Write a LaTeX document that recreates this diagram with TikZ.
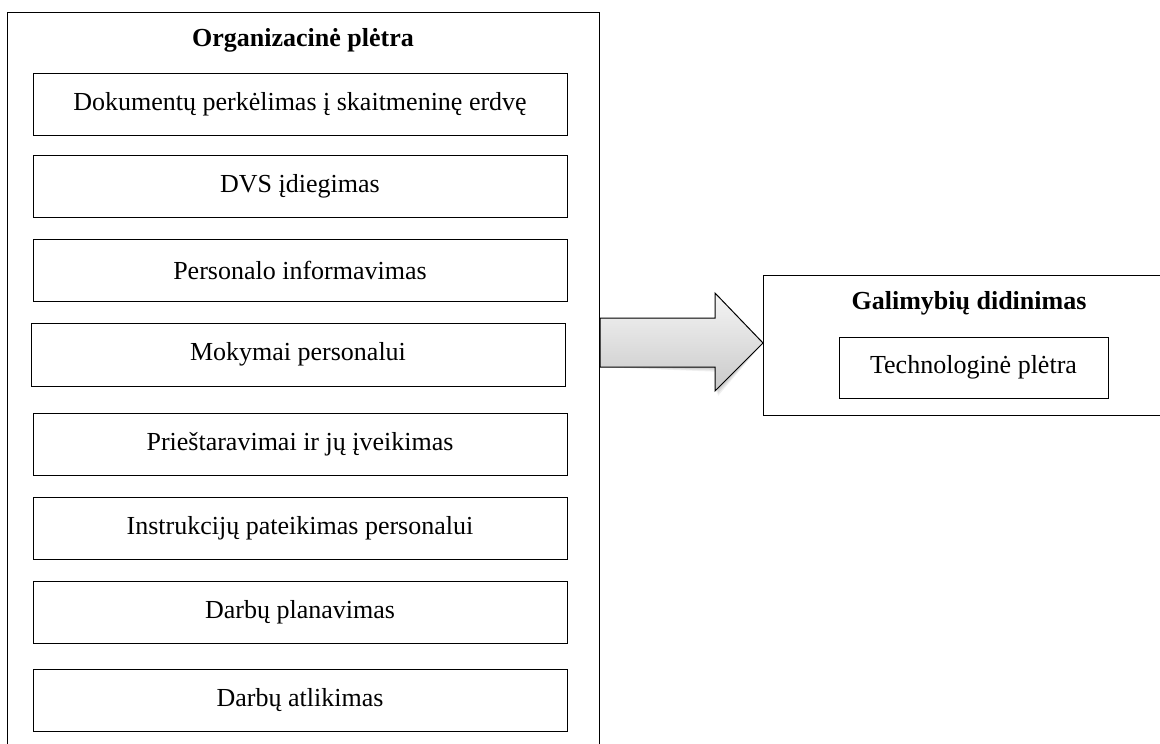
\documentclass[tikz,border=0pt]{standalone}
\usepackage{fontspec}
\setmainfont{Liberation Serif}
\begin{document}
\begin{tikzpicture}[x=1pt,y=-1pt,
  every node/.style={font=\fontsize{26}{31}\selectfont, inner sep=0pt},
  itembox/.style={draw=black, line width=1pt, minimum width=534pt, minimum height=62pt, align=center},
  framebox/.style={draw=black, line width=1pt},
  titletext/.style={font=\fontsize{26}{31}\selectfont\bfseries},
  blockarrow/.style={draw=black, line width=1pt, top color=gray!8, bottom color=gray!42}
]
\useasboundingbox (0,0) rectangle (1160,744);
\clip (0,0) rectangle (1160,744);
\fill[white] (0,0) rectangle (1160,744);

% left frame
\node[framebox, anchor=north west, minimum width=592pt, minimum height=760pt] (org) at (7,12) {};
\node[titletext] (orgtitle) at (303,40) {Organizacinė plėtra};

\node[itembox] (b1) at (300,104.5) {Dokumentų perkėlimas į skaitmeninę erdvę};
\node[itembox] (b2) at (300,186) {DVS įdiegimas};
\node[itembox] (b3) at (300,270) {Personalo informavimas};
\node[itembox, minimum height=63pt] (b4) at (298,354.5) {Mokymai personalui};
\node[itembox] (b5) at (300,444) {Prieštaravimai ir jų įveikimas};
\node[itembox] (b6) at (300,528) {Instrukcijų pateikimas personalui};
\node[itembox] (b7) at (300,612) {Darbų planavimas};
\node[itembox] (b8) at (300,700) {Darbų atlikimas};

% right frame
\node[framebox, line width=1.2pt, anchor=north west, minimum width=420pt, minimum height=140pt] (gal) at (763,275) {};
\node[titletext] (galtitle) at (969,303) {Galimybių didinimas};
\node[draw=black, line width=1pt, minimum width=269pt, minimum height=61pt] (tech) at (973.5,367.5) {Technologinė plėtra};

% block arrow between frames
\coordinate (as) at (org.east |- 0,318);
\coordinate (ab) at (org.east |- 0,367);
\coordinate (tip) at (gal.west |- 0,343);
\foreach \s in {1,2,3,4}{
  \begin{scope}[shift={(0.8*\s,1.2*\s)}]
    \fill[black, opacity=0.06]
      (as) -- (715,318) -- (715,293) -- (tip) -- (715,391) -- (715,367) -- (ab) -- cycle;
  \end{scope}
}
\path[blockarrow]
  (as) -- (715,318) -- (715,293) -- (tip) -- (715,391) -- (715,367) -- (ab) -- cycle;
\end{tikzpicture}
\end{document}
